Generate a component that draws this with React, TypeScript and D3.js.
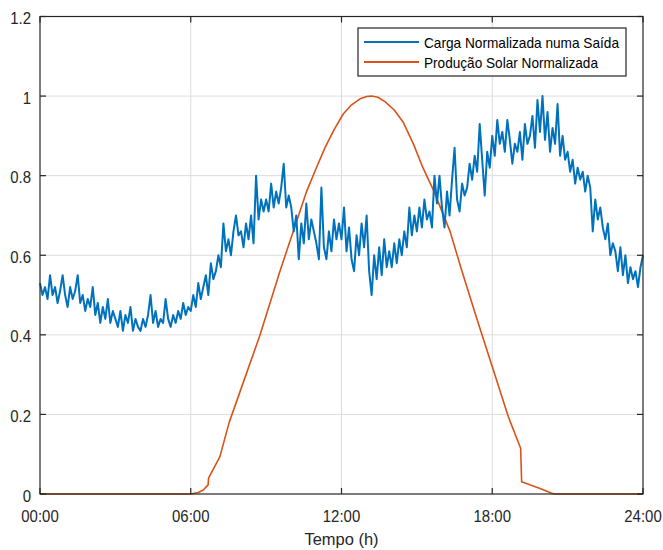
import * as d3 from "d3";

// hours 0..24 in steps of 0.1 h
const loadValues: number[] = [
  // 00h
  0.53, 0.50, 0.52, 0.49, 0.55, 0.50, 0.52, 0.48, 0.51, 0.55,
  // 01h
  0.50, 0.47, 0.52, 0.49, 0.51, 0.55, 0.48, 0.50, 0.46, 0.49,
  // 02h
  0.47, 0.52, 0.45, 0.48, 0.43, 0.47, 0.44, 0.49, 0.43, 0.46,
  // 03h
  0.44, 0.42, 0.46, 0.41, 0.45, 0.43, 0.47, 0.41, 0.44, 0.42,
  // 04h
  0.41, 0.44, 0.42, 0.45, 0.50, 0.43, 0.46, 0.42, 0.44, 0.43,
  // 05h
  0.49, 0.44, 0.42, 0.45, 0.43, 0.46, 0.44, 0.48, 0.45, 0.47,
  // 06h
  0.46, 0.50, 0.47, 0.53, 0.49, 0.52, 0.55, 0.50, 0.58, 0.54,
  // 07h
  0.56, 0.60, 0.57, 0.68, 0.61, 0.64, 0.60, 0.66, 0.70, 0.65,
  // 08h
  0.66, 0.62, 0.68, 0.64, 0.70, 0.63, 0.80, 0.69, 0.74, 0.71,
  // 09h
  0.74, 0.71, 0.78, 0.72, 0.76, 0.73, 0.77, 0.83, 0.72, 0.75,
  // 10h
  0.72, 0.66, 0.70, 0.59, 0.68, 0.63, 0.73, 0.64, 0.69, 0.66,
  // 11h
  0.63, 0.59, 0.77, 0.62, 0.59, 0.66, 0.61, 0.69, 0.64, 0.68,
  // 12h
  0.64, 0.72, 0.61, 0.67, 0.59, 0.56, 0.65, 0.60, 0.68, 0.62,
  // 13h
  0.70, 0.56, 0.50, 0.60, 0.54, 0.62, 0.55, 0.64, 0.57, 0.61,
  // 14h
  0.57, 0.63, 0.58, 0.64, 0.60, 0.66, 0.62, 0.72, 0.65, 0.70,
  // 15h
  0.66, 0.72, 0.67, 0.74, 0.69, 0.71, 0.67, 0.80, 0.73, 0.80,
  // 16h
  0.72, 0.67, 0.76, 0.70, 0.79, 0.87, 0.74, 0.71, 0.78, 0.75,
  // 17h
  0.77, 0.83, 0.79, 0.85, 0.81, 0.93, 0.84, 0.75, 0.86, 0.82,
  // 18h
  0.90, 0.85, 0.94, 0.88, 0.91, 0.86, 0.94, 0.89, 0.83, 0.88,
  // 19h
  0.86, 0.91, 0.84, 0.93, 0.88, 0.90, 0.95, 0.87, 0.99, 0.91,
  // 20h
  1.00, 0.89, 0.96, 0.86, 0.92, 0.88, 0.98, 0.85, 0.90, 0.84,
  // 21h
  0.86, 0.81, 0.84, 0.78, 0.82, 0.79, 0.81, 0.76, 0.80, 0.77,
  // 22h
  0.66, 0.74, 0.69, 0.72, 0.67, 0.64, 0.68, 0.60, 0.63, 0.61,
  // 23h
  0.56, 0.62, 0.55, 0.60, 0.53, 0.57, 0.54, 0.56, 0.52, 0.57,
  // 24h
  0.60,
];

const solarHours = [
  0, 6.0, 6.3, 6.5, 6.69, 6.71, 7.16, 7.53, 8.2, 8.76, 9.55, 10.61, 11.0,
  11.34, 11.7, 12.07, 12.4, 12.74, 13.0, 13.2, 13.45, 13.73, 14.1, 14.45,
  14.86, 15.24, 15.65, 16.32, 16.78, 17.39, 18.04, 18.64, 19.13, 19.17,
  19.9, 20.37, 20.5, 24,
];
const solarValues = [
  0, 0, 0.004, 0.01, 0.023, 0.04, 0.094, 0.18, 0.3, 0.4, 0.56, 0.76, 0.82,
  0.87, 0.915, 0.955, 0.978, 0.993, 0.999, 1.0, 0.997, 0.986, 0.965, 0.935,
  0.88, 0.82, 0.765, 0.66, 0.563, 0.44, 0.312, 0.194, 0.115, 0.031,
  0.014, 0.002, 0, 0,
];

const xTicks = [0, 6, 12, 18, 24];
const xTickLabels = ["00:00", "06:00", "12:00", "18:00", "24:00"];
const yTicks = [0, 0.2, 0.4, 0.6, 0.8, 1, 1.2];
const yTickLabels = ["0", "0.2", "0.4", "0.6", "0.8", "1", "1.2"];
const seriesNames = ["Carga Normalizada numa Saída", "Produção Solar Normalizada"];
const seriesColors = ["#0072BD", "#D95319"];

const W = 663;
const H = 550;
const margin = { top: 16.5, right: 20, bottom: 56, left: 40 };
const axisColor = "#262626";
const font = "'Liberation Sans', Arial, Helvetica, sans-serif";

export default function App() {
  const x = d3.scaleLinear().domain([0, 24]).range([margin.left, W - margin.right]);
  const y = d3.scaleLinear().domain([0, 1.2]).range([H - margin.bottom, margin.top]);

  const load = loadValues.map((v, i) => ({ h: i / 10, v }));
  const solar = solarHours.map((h, i) => ({ h, v: solarValues[i] }));

  const line = d3
    .line<{ h: number; v: number }>()
    .x((d) => x(d.h))
    .y((d) => y(d.v));

  const x0 = x(0);
  const x1 = x(24);
  const y0 = y(0);
  const y1 = y(1.2);
  const tick = 6;

  // legend box
  const lg = { x: 358, y: 28, w: 268, h: 48 };

  return (
    <svg
      width={W}
      height={H}
      style={{ position: "absolute", left: 0, top: 0, background: "#fff" }}
      fontFamily={font}
    >
      <rect x={0} y={0} width={W} height={H} fill="#fff" />
      {/* grid */}
      {xTicks.slice(1, -1).map((t) => (
        <line key={"gx" + t} x1={x(t)} x2={x(t)} y1={y1} y2={y0} stroke="#dcdcdc" strokeWidth={1} />
      ))}
      {yTicks.slice(1, -1).map((t) => (
        <line key={"gy" + t} x1={x0} x2={x1} y1={y(t)} y2={y(t)} stroke="#dcdcdc" strokeWidth={1} />
      ))}

      {/* series */}
      <path d={line(solar) ?? ""} fill="none" stroke={seriesColors[1]} strokeWidth={1.6} strokeLinejoin="round" />
      <path d={line(load) ?? ""} fill="none" stroke={seriesColors[0]} strokeWidth={2} strokeLinejoin="round" />

      {/* box and ticks */}
      <rect x={x0} y={y1} width={x1 - x0} height={y0 - y1} fill="none" stroke={axisColor} strokeWidth={1.2} />
      {xTicks.map((t) => (
        <g key={"tx" + t}>
          <line x1={x(t)} x2={x(t)} y1={y0} y2={y0 - tick} stroke={axisColor} strokeWidth={1.2} />
          <line x1={x(t)} x2={x(t)} y1={y1} y2={y1 + tick} stroke={axisColor} strokeWidth={1.2} />
        </g>
      ))}
      {yTicks.map((t) => (
        <g key={"ty" + t}>
          <line x1={x0} x2={x0 + tick} y1={y(t)} y2={y(t)} stroke={axisColor} strokeWidth={1.2} />
          <line x1={x1} x2={x1 - tick} y1={y(t)} y2={y(t)} stroke={axisColor} strokeWidth={1.2} />
        </g>
      ))}

      {/* tick labels */}
      {xTicks.map((t, i) => (
        <text
          key={"lx" + t}
          transform={`translate(${x(t)},${y0 + 27.5}) scale(0.88,1)`}
          textAnchor="middle"
          fontSize={17}
          fill={axisColor}
        >
          {xTickLabels[i]}
        </text>
      ))}
      {yTicks.map((t, i) => (
        <text
          key={"ly" + t}
          transform={`translate(${x0 - 9},${y(t) + 7.5}) scale(0.88,1)`}
          textAnchor="end"
          fontSize={17}
          fill={axisColor}
        >
          {yTickLabels[i]}
        </text>
      ))}
      <text
        transform={`translate(${x(12)},${H - 5.5}) scale(0.97,1)`}
        textAnchor="middle"
        fontSize={17}
        fill={axisColor}
      >
        Tempo (h)
      </text>

      {/* legend */}
      <rect x={lg.x} y={lg.y} width={lg.w} height={lg.h} fill="#fff" stroke={axisColor} strokeWidth={1.2} />
      {seriesNames.map((name, i) => (
        <g key={name}>
          <line
            x1={lg.x + 6}
            x2={lg.x + 61}
            y1={lg.y + 14 + i * 20}
            y2={lg.y + 14 + i * 20}
            stroke={seriesColors[i]}
            strokeWidth={1.8}
          />
          <text
            x={lg.x + 66}
            y={lg.y + 19.5 + i * 20}
            fontSize={15}
            fill="#000"
            textLength={i === 0 ? 195 : 174}
            lengthAdjust="spacingAndGlyphs"
          >
            {name}
          </text>
        </g>
      ))}
    </svg>
  );
}
